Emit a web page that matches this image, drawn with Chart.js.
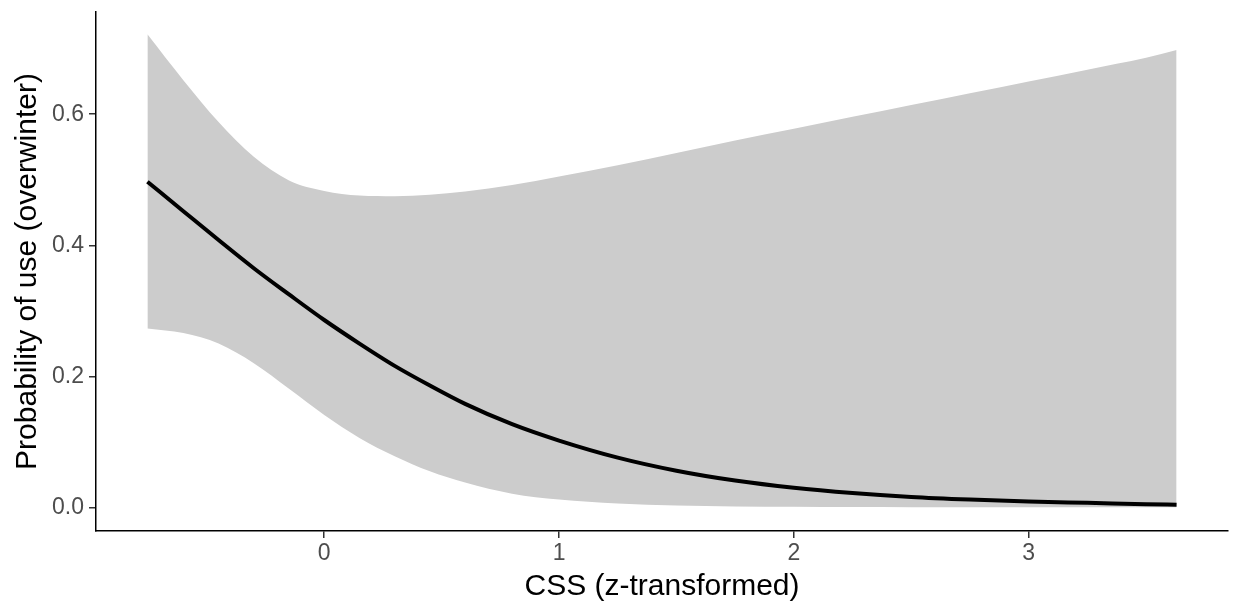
<!DOCTYPE html>
<html>
<head>
<meta charset="utf-8">
<script src="https://cdn.jsdelivr.net/npm/chart.js@4/dist/chart.umd.min.js"></script>
<style>
  html, body { margin: 0; padding: 0; background: #fff; }
  #wrap { width: 1235px; height: 607px; }
</style>
</head>
<body>
<div id="wrap"><canvas id="chart"></canvas></div>
<script>
// values
const css = [-0.753, -0.6, -0.45, -0.3, -0.15, 0, 0.15, 0.3, 0.45, 0.6, 0.8, 1.0, 1.25, 1.5, 1.75, 2.0, 2.25, 2.5, 2.75, 3.0, 3.25, 3.5, 3.63];
const prob = [0.497, 0.452, 0.408, 0.365, 0.325, 0.286, 0.250, 0.216, 0.186, 0.158, 0.127, 0.102, 0.076, 0.056, 0.041, 0.030, 0.022, 0.016, 0.012, 0.009, 0.007, 0.005, 0.004];
const upper = [0.722, 0.652, 0.588, 0.535, 0.499, 0.483, 0.476, 0.475, 0.477, 0.482, 0.492, 0.505, 0.522, 0.541, 0.560, 0.578, 0.596, 0.614, 0.632, 0.650, 0.668, 0.686, 0.698];
const lower = [0.273, 0.266, 0.250, 0.220, 0.181, 0.141, 0.106, 0.078, 0.055, 0.038, 0.021, 0.012, 0.006, 0.003, 0.0015, 0.001, 0.0006, 0.0004, 0.0003, 0.0002, 0.0001, 0.0001, 0.0001];
const xTicks = [0, 1, 2, 3];
const yTicks = [0, 0.2, 0.4, 0.6];

function pts(ys) {
  return css.map((x, i) => ({ x: x, y: ys[i] }));
}

const font = "'Liberation Sans', Arial, sans-serif";

new Chart(document.getElementById('chart'), {
  type: 'line',
  data: {
    datasets: [
      {
        label: 'fit',
        data: pts(prob),
        borderColor: '#000',
        borderWidth: 4,
        pointRadius: 0,
        cubicInterpolationMode: 'monotone',
        fill: false,
        order: 0
      },
      {
        label: 'upper',
        data: pts(upper),
        borderWidth: 0,
        borderColor: 'rgba(0,0,0,0)',
        backgroundColor: '#cccccc',
        pointRadius: 0,
        cubicInterpolationMode: 'monotone',
        fill: '+1',
        order: 1
      },
      {
        label: 'lower',
        data: pts(lower),
        borderWidth: 0,
        borderColor: 'rgba(0,0,0,0)',
        pointRadius: 0,
        cubicInterpolationMode: 'monotone',
        fill: false,
        order: 2
      }
    ]
  },
  options: {
    responsive: true,
    maintainAspectRatio: false,
    animation: false,
    layout: { padding: { top: 12, right: 7, left: 0, bottom: 0 } },
    plugins: {
      legend: { display: false },
      tooltip: { enabled: false }
    },
    scales: {
      x: {
        type: 'linear',
        min: -0.972,
        max: 3.849,
        afterBuildTicks: s => { s.ticks = xTicks.map(v => ({ value: v })); },
        afterFit: s => { s.height = 76; s.paddingLeft = 0; s.paddingRight = 0; },
        grid: { display: true, drawOnChartArea: false, drawTicks: true, tickLength: 7, color: '#333', lineWidth: 1.5 },
        border: { display: true, color: '#000', width: 1.5 },
        ticks: { color: '#4d4d4d', font: { family: font, size: 23 }, padding: 2 },
        title: { display: true, text: 'CSS (z-transformed)', color: '#000', font: { family: font, size: 30 }, padding: { top: 0, bottom: 2 } }
      },
      y: {
        min: -0.036,
        max: 0.756,
        afterBuildTicks: s => { s.ticks = yTicks.map(v => ({ value: v })); },
        afterFit: s => { s.width = 96; s.paddingTop = 0; s.paddingBottom = 0; },
        grid: { display: true, drawOnChartArea: false, drawTicks: true, tickLength: 7, color: '#333', lineWidth: 1.5 },
        border: { display: true, color: '#000', width: 1.5 },
        ticks: { color: '#4d4d4d', font: { family: font, size: 23 }, padding: 5, callback: v => v.toFixed(1) },
        title: { display: true, text: 'Probability of use (overwinter)', color: '#000', font: { family: font, size: 30 }, padding: { top: 10, bottom: 0 } }
      }
    }
  }
});
</script>
</body>
</html>
